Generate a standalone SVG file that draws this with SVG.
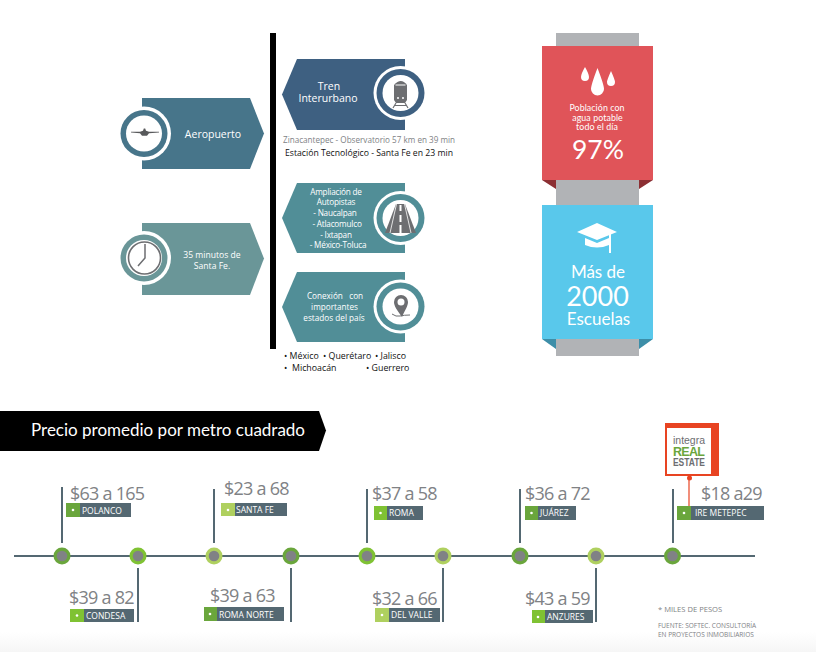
<svg xmlns="http://www.w3.org/2000/svg" width="816" height="652" viewBox="0 0 816 652">
<defs>
<linearGradient id="fade" x1="0" y1="0" x2="0" y2="1"><stop offset="0" stop-color="#ffffff"/><stop offset="1" stop-color="#f6f6f6"/></linearGradient>
</defs>
<style>
text{font-family:"Open Sans","Noto Sans",sans-serif}
.w{fill:#fff;text-anchor:middle}
.b8{font-size:8.200px;letter-spacing:-.2px}
.b9{font-size:8.200px}
.price{font-size:18px;fill:#808285;letter-spacing:-.75px}
.tag{font-size:8.500px;fill:#fff}
.bar{fill:#546872}
.st{stroke:#546872;stroke-width:2;fill:none}
.g1{fill:#6aa63c}.g2{fill:#7fc233}.g3{fill:#afd05f}
.hub{fill:#808285}
.dot{fill:#fff}
.lato{font-family:Lato,"Open Sans",sans-serif}
.thin{font-weight:300}
.est{font-size:8.800px;fill:#111}
.logo{font-family:"Liberation Sans",sans-serif;text-anchor:start}
</style>
<rect width="816" height="652" fill="#fff"/>
<rect y="632" width="816" height="20" fill="url(#fade)"/>
<rect id="divider" x="270" y="33" width="6" height="316" fill="#000"/>

<g id="aeropuerto">
<path d="M142 98H250L264 133.500L250 169H142Z" fill="#47758a"/>
<circle cx="144" cy="133.500" r="27" fill="#fff"/><circle cx="144" cy="133.500" r="23.500" fill="#47758a"/><circle cx="144" cy="133.500" r="18" fill="#fff"/>
<path d="M131 131.800H140L143 130.800L143.800 128.500H145.200L146 130.800L149 131.800H159V132.600L149 133.300L147 135.800H142L140 133.300L131 132.600Z" fill="#58595b"/>
<text class="w" x="213" y="137.500" font-size="10.500">Aeropuerto</text>
</g>

<g id="tiempo">
<path d="M142 223H250L264 258.500L250 295H142Z" fill="#6a9698"/>
<circle cx="144" cy="258" r="27" fill="#fff"/><circle cx="144" cy="258" r="23.500" fill="#6a9698"/><circle cx="144" cy="258" r="18" fill="#fff"/>
<circle cx="144.500" cy="258" r="16" fill="none" stroke="#6d6e71" stroke-width="1.600"/>
<path d="M145 244V258L138 266" fill="none" stroke="#6d6e71" stroke-width="1.500"/>
<text class="w" x="212" y="258" font-size="8.600">35 minutos de</text>
<text class="w" x="212" y="268.500" font-size="8.600">Santa Fe.</text>
</g>

<g id="tren">
<path d="M405 59H297L282 94.500L297 130H405Z" fill="#3e6081"/>
<circle cx="400.500" cy="93" r="27" fill="#fff"/><circle cx="400.500" cy="93" r="24" fill="#3e6081"/><circle cx="400.500" cy="93" r="18" fill="#fff"/>
<path d="M394 85Q401 77 407 85V100L405 103H396L394 100Z" fill="#6d6e71"/>
<path d="M395.500 84.500H405.500V85.500H395.500Z" fill="#fff"/>
<circle cx="398" cy="98" r="1" fill="#fff"/><circle cx="403" cy="98" r="1" fill="#fff"/>
<path d="M396 103L393 108M405 103L408 108M394.500 105.500H406.500" stroke="#6d6e71" stroke-width="1.200" fill="none"/>
<text class="w" x="329" y="89.500" font-size="10.500">Tren</text>
<text class="w" x="328" y="101.500" font-size="10.500">Interurbano</text>
</g>
<g id="tren-notas">
<text x="283" y="143" font-size="8.300" fill="#808285" textLength="172" lengthAdjust="spacingAndGlyphs">Zinacantepec - Observatorio 57 km en 39 min</text>
<text x="285" y="156" font-size="8.600" fill="#111" textLength="168" lengthAdjust="spacingAndGlyphs">Estación Tecnológico - Santa Fe en 23 min</text>
</g>

<g id="autopistas">
<path d="M405 183H297L282 218L297 253H405Z" fill="#518e97"/>
<circle cx="400.500" cy="218" r="27" fill="#fff"/><circle cx="400.500" cy="218" r="24" fill="#518e97"/><circle cx="400.500" cy="218" r="18" fill="#fff"/>
<path d="M396 204H405L416 233H385Z" fill="#6d6e71"/>
<path d="M400.500 205V211M400.500 215V222M400.500 225V233" stroke="#fff" stroke-width="2" fill="none"/>
<path d="M396.500 204L390 233M404.500 204L411 233" stroke="#fff" stroke-width=".8" fill="none"/>
<text class="w b8" x="336" y="194.500">Ampliación de</text>
<text class="w b8" x="336" y="205">Autopistas</text>
<text class="w b8" x="335" y="216">- Naucalpan</text>
<text class="w b8" x="337" y="227">- Atlacomulco</text>
<text class="w b8" x="336" y="237.500">- Ixtapan</text>
<text class="w b8" x="338" y="248">- México-Toluca</text>
</g>

<g id="conexion">
<path d="M405 272H297L282 307L297 342H405Z" fill="#518e97"/>
<circle cx="400.500" cy="306.500" r="27" fill="#fff"/><circle cx="400.500" cy="306.500" r="24" fill="#518e97"/><circle cx="400.500" cy="306.500" r="18" fill="#fff"/>
<path d="M402 317C397 310 394 306 394 302A7 7 0 0 1 408 302C408 306 405 310 402 317Z" fill="#6d6e71"/>
<circle cx="401" cy="302" r="3.500" fill="#fff"/>
<path d="M392 314Q396 317 400 316T410 315" stroke="#6d6e71" stroke-width="1" fill="none"/>
<text class="w b9" x="335" y="299">Conexión&#160;&#160;&#160;con</text>
<text class="w b9" x="334.500" y="310">importantes</text>
<text class="w b9" x="334" y="320.500">estados del país</text>
</g>
<g id="estados">
<text class="est" x="284" y="359">• México</text>
<text class="est" x="323" y="359">• Querétaro</text>
<text class="est" x="375" y="359">• Jalisco</text>
<text class="est" x="284" y="371">•</text>
<text class="est" x="292" y="371">Michoacán</text>
<text class="est" x="366" y="371">• Guerrero</text>
</g>

<g id="agua">
<rect x="556" y="33" width="83" height="13" fill="#b1b3b6"/>
<rect x="556" y="180" width="83" height="25" fill="#b1b3b6"/>
<rect x="542" y="46" width="111" height="134" fill="#e05459"/>
<path d="M542 180H556V189Z M653 180H639V189Z" fill="#8c2f33"/>
<path d="M585 67Q581 74 581 77A4 4 0 0 0 589 77Q589 74 585 67Z M597.500 68Q591 85 591 89A6.500 6.500 0 0 0 604 89Q604 85 597.500 68Z M611 71Q607 80 607 82A4 4 0 0 0 615 82Q615 80 611 71Z" fill="#fff"/>
<text class="w lato" x="597" y="111" font-size="8.800" letter-spacing=".1">Población con</text>
<text class="w lato" x="597.500" y="120.500" font-size="8.800" letter-spacing=".1">agua potable</text>
<text class="w lato" x="597" y="129.500" font-size="8.800" letter-spacing=".1">todo el día</text>
<text class="w lato" x="598" y="159" font-size="26.500">97%</text>
</g>

<g id="escuelas">
<rect x="556" y="339" width="83" height="17" fill="#b1b3b6"/>
<rect x="542" y="205" width="111" height="134" fill="#59c8eb"/>
<path d="M542 339H556V349Z M653 339H639V349Z" fill="#3d8ea8"/>
<path d="M597 223L617 232L597 240L577 232Z M585 238L597 243L609 238V245Q597 250 585 245Z" fill="#fff"/>
<rect x="609" y="233" width="2" height="20" fill="#fff"/>
<text class="w lato" x="598" y="278" font-size="17">Más de</text>
<text class="w lato" x="597.500" y="306" font-size="27">2000</text>
<text class="w lato" x="598.500" y="325" font-size="17">Escuelas</text>
</g>

<g id="titulo">
<path d="M0 411H319L326 430.500L319 451H0Z" fill="#000"/>
<text x="31" y="436" font-size="17" fill="#fff" class="lato">Precio promedio por metro cuadrado</text>
</g>

<g id="conectores">
<path class="st" d="M14 556H755"/>
<path class="st" d="M62 487V543"/>
<path class="st" d="M138 568V622"/>
<path class="st" d="M214 489V543"/>
<path class="st" d="M291 568V622"/>
<path class="st" d="M367 489V543"/>
<path class="st" d="M443 568V622"/>
<path class="st" d="M520 489V543"/>
<path class="st" d="M596 568V622"/>
<path class="st" d="M673 489V543"/>
<path d="M689 478V506" stroke="#e84422" stroke-width="1.200" fill="none"/>
</g>

<g id="polanco">
<circle cx="62" cy="556" r="8.500" class="g1"/><circle cx="62" cy="556" r="5.300" class="hub"/>
<text class="price" x="70" y="500">$63 a 165</text>
<rect x="66" y="503" width="65" height="14" class="bar"/><rect x="66" y="503" width="14" height="14" class="g1"/><circle cx="73" cy="510" r="1.300" class="dot"/>
<text class="tag" x="82" y="514">POLANCO</text>
</g>
<g id="condesa">
<circle cx="138" cy="556" r="8.500" class="g2"/><circle cx="138" cy="556" r="5.300" class="hub"/>
<text class="price" x="69" y="604">$39 a 82</text>
<rect x="70" y="609" width="64" height="13" class="bar"/><rect x="70" y="609" width="14" height="13" class="g2"/><circle cx="77" cy="615.500" r="1.300" class="dot"/>
<text class="tag" x="86" y="619">CONDESA</text>
</g>
<g id="santa-fe">
<circle cx="214" cy="556" r="8.500" class="g3"/><circle cx="214" cy="556" r="5.300" class="hub"/>
<text class="price" x="224" y="495">$23 a 68</text>
<rect x="221" y="503" width="66" height="13" class="bar"/><rect x="221" y="503" width="14" height="13" class="g3"/><circle cx="228" cy="510" r="1.300" class="dot"/>
<text class="tag" x="236" y="513">SANTA FE</text>
</g>
<g id="roma-norte">
<circle cx="291" cy="556" r="8.500" class="g1"/><circle cx="291" cy="556" r="5.300" class="hub"/>
<text class="price" x="210" y="602">$39 a 63</text>
<rect x="204" y="607" width="80" height="14" class="bar"/><rect x="204" y="607" width="13" height="14" class="g1"/><circle cx="210" cy="614" r="1.300" class="dot"/>
<text class="tag" x="219" y="618">ROMA NORTE</text>
</g>
<g id="roma">
<circle cx="367" cy="556" r="8.500" class="g2"/><circle cx="367" cy="556" r="5.300" class="hub"/>
<text class="price" x="372" y="500">$37 a 58</text>
<rect x="374" y="506" width="49" height="14" class="bar"/><rect x="374" y="506" width="13" height="14" class="g2"/><circle cx="380.500" cy="513" r="1.300" class="dot"/>
<text class="tag" x="389" y="516">ROMA</text>
</g>
<g id="del-valle">
<circle cx="443" cy="556" r="8.500" class="g3"/><circle cx="443" cy="556" r="5.300" class="hub"/>
<text class="price" x="372" y="605">$32 a 66</text>
<rect x="375" y="608" width="65" height="14" class="bar"/><rect x="375" y="608" width="14" height="14" class="g3"/><circle cx="382" cy="615" r="1.300" class="dot"/>
<text class="tag" x="391" y="618">DEL VALLE</text>
</g>
<g id="juarez">
<circle cx="520" cy="556" r="8.500" class="g1"/><circle cx="520" cy="556" r="5.300" class="hub"/>
<text class="price" x="525" y="500">$36 a 72</text>
<rect x="525" y="506" width="51" height="14" class="bar"/><rect x="525" y="506" width="13" height="14" class="g1"/><circle cx="531.500" cy="513" r="1.300" class="dot"/>
<text class="tag" x="540" y="516">JUÁREZ</text>
</g>
<g id="anzures">
<circle cx="596" cy="556" r="8.500" class="g3"/><circle cx="596" cy="556" r="5.300" class="hub"/>
<text class="price" x="525" y="605">$43 a 59</text>
<rect x="532" y="610" width="61" height="13" class="bar"/><rect x="532" y="610" width="13" height="13" class="g2"/><circle cx="538" cy="617" r="1.300" class="dot"/>
<text class="tag" x="547" y="620">ANZURES</text>
</g>
<g id="metepec">
<circle cx="672.500" cy="556" r="8.500" class="g1"/><circle cx="672.500" cy="556" r="5.300" class="hub"/>
<text class="price" x="701" y="500">$18 a29</text>
<rect x="677" y="506" width="87" height="14" class="bar"/><rect x="677" y="506" width="14" height="14" class="g1"/><circle cx="684" cy="513" r="1.300" class="dot"/>
<text class="tag" x="695" y="516">IRE METEPEC</text>
</g>

<g id="logo">
<rect x="665" y="423" width="54" height="53" fill="#e84422"/>
<rect x="667" y="428" width="44" height="46" fill="#fff"/>
<circle cx="689.500" cy="478" r="2.500" fill="#e84422"/>
<text class="logo" x="673" y="444" font-size="11" fill="#6d6e71" textLength="32" lengthAdjust="spacingAndGlyphs">integra</text>
<text class="logo" x="673" y="456" font-size="12.500" font-weight="700" fill="#6aa63c" textLength="32">REAL</text>
<text class="logo" x="673" y="466" font-size="10.500" font-weight="700" fill="#6d6e71" textLength="32" lengthAdjust="spacingAndGlyphs">ESTATE</text>
</g>

<g id="nota">
<text x="658" y="612" font-size="7.600" fill="#808285">* MILES DE PESOS</text>
<text x="658" y="628" font-size="6.500" fill="#808285">FUENTE: SOFTEC. CONSULTORÍA</text>
<text x="658" y="637" font-size="6.500" fill="#808285">EN PROYECTOS INMOBILIARIOS</text>
</g>
</svg>
